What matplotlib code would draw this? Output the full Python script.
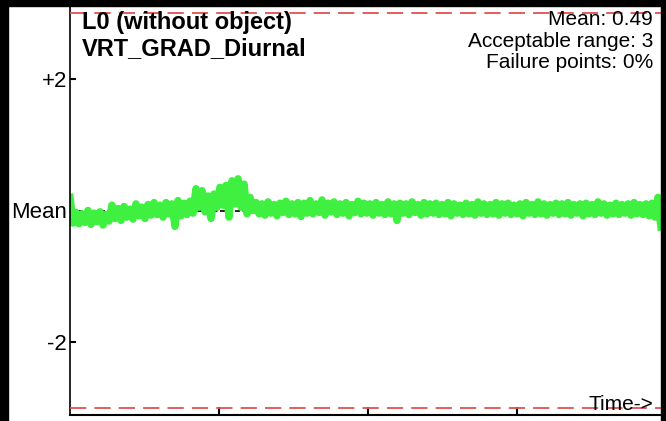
import numpy as np
import matplotlib
matplotlib.use('Agg')
import matplotlib.pyplot as plt
from matplotlib.patches import Rectangle

plt.rcParams['font.family'] = ['Liberation Sans', 'DejaVu Sans']

# deviation from the mean (units of the y axis)
trace = [
    0.2, -0.19, -0.03, -0.2, -0.05, -0.18, 0.0, -0.21, -0.04, -0.17, -0.02, -0.22, -0.06, -0.16,
    0.08, -0.12, 0.03, -0.15, 0.06, -0.1, 0.02, -0.13, 0.1, -0.08, 0.05, -0.12, 0.09, -0.07, 0.12, -0.06, 0.08, -0.1,
    0.12, -0.05, 0.1, -0.24, 0.15, -0.08, 0.11, -0.06, 0.14, -0.04,
    0.33, 0.05, 0.3, -0.02, 0.22, -0.12, 0.25, 0.05, 0.35, 0.08, 0.38, -0.1, 0.45, 0.1, 0.48, 0.05, 0.4, -0.05, 0.2,
    0.0, 0.12, -0.05, 0.1, -0.07, 0.13, -0.04, 0.09, -0.08, 0.11, -0.03, 0.14, -0.06, 0.1, -0.05, 0.12, -0.09, 0.11, -0.04, 0.15,
    -0.05, 0.1, -0.03, 0.16, -0.07, 0.11, -0.02, 0.13, -0.06, 0.1, -0.04, 0.12, -0.08, 0.09, -0.03, 0.14, -0.05, 0.11, -0.04, 0.1,
    -0.07, 0.12, -0.04, 0.09, -0.06, 0.13, -0.05, 0.1, -0.15, 0.11, -0.04, 0.1, -0.06, 0.13, -0.03, 0.09, -0.07, 0.12, -0.05, 0.1,
    -0.04, 0.11, -0.06, 0.09, -0.05, 0.12, -0.08, 0.1, -0.04, 0.08, -0.06, 0.11, -0.05, 0.09, -0.07, 0.13, -0.04, 0.1, -0.06, 0.09,
    -0.05, 0.12, -0.07, 0.1, -0.04, 0.11, -0.06, 0.08, -0.05, 0.1, -0.08, 0.12, -0.04, 0.09, -0.06, 0.13, -0.05, 0.1, -0.07, 0.09,
    -0.04, 0.11, -0.06, 0.1, -0.05, 0.12, -0.07, 0.09, -0.04, 0.1, -0.08, 0.11, -0.05, 0.09, -0.06, 0.13, -0.04, 0.1, -0.07, 0.08,
    -0.05, 0.11, -0.06, 0.09, -0.04, 0.1, -0.07, 0.12, -0.05, 0.09, -0.06, 0.1, -0.08, 0.11, -0.1, 0.2, -0.25,
]
acceptable_range = 3
ytick_vals = [2, 0, -2]
ytick_labels = ['+2', 'Mean', '-2']
xtick_vals = [1, 2, 3]
x_end = 3.966

title_text = 'L0 (without object)\nVRT_GRAD_Diurnal'
stats_text = 'Mean: 0.49\nAcceptable range: 3\nFailure points: 0%'

W, H = 666, 421
fig = plt.figure(figsize=(W / 100, H / 100), dpi=100)
ax = fig.add_axes([70 / W, 6 / H, (661 - 70) / W, (415 - 6) / H])

t = np.linspace(0, x_end, len(trace))
ax.axhline(0, color='black', lw=1.2, ls=(0, (3, 1.5)), zorder=1)
ax.plot(t, trace, color='#40f040', lw=5.4, zorder=2, solid_joinstyle='round')
for lim in (acceptable_range, -acceptable_range):
    ax.axhline(lim, color='#e05050', lw=1.3, ls=(0, (9, 4.5)), zorder=3)

ax.set_xlim(0, x_end)
ax.set_ylim(-3.1, 3.1)
ax.set_yticks(ytick_vals)
ax.set_yticklabels(ytick_labels, fontsize=16)
ax.set_xticks(xtick_vals)
ax.set_xticklabels([])
ax.tick_params(axis='y', direction='in', length=4.5, width=1.5, pad=2)
ax.tick_params(axis='x', direction='in', length=6, width=1.5)
for s in ('top', 'right'):
    ax.spines[s].set_visible(False)
ax.spines['left'].set_linewidth(1.2)
ax.spines['bottom'].set_linewidth(1.5)

fig.text(82 / W, 1 - 11 / H, title_text, fontsize=17, fontweight='bold',
         va='top', ha='left', linespacing=1.15)
fig.text(653 / W, 1 - 10 / H, stats_text, fontsize=15, va='top', ha='right',
         linespacing=1.17, multialignment='right')
fig.text(653 / W, 1 - 410 / H, 'Time->', fontsize=15, va='baseline', ha='right')

# black frame around the picture
fig.patches.append(Rectangle((0, 0), 8 / W, 1, transform=fig.transFigure,
                             color='black', zorder=10))
fig.patches.append(Rectangle((0, 1 - 6 / H), 1, 6 / H, transform=fig.transFigure,
                             color='black', zorder=10))
fig.patches.append(Rectangle((661 / W, 0), 5 / W, 1, transform=fig.transFigure,
                             color='black', zorder=10))

fig.savefig('out.png', dpi=100)
